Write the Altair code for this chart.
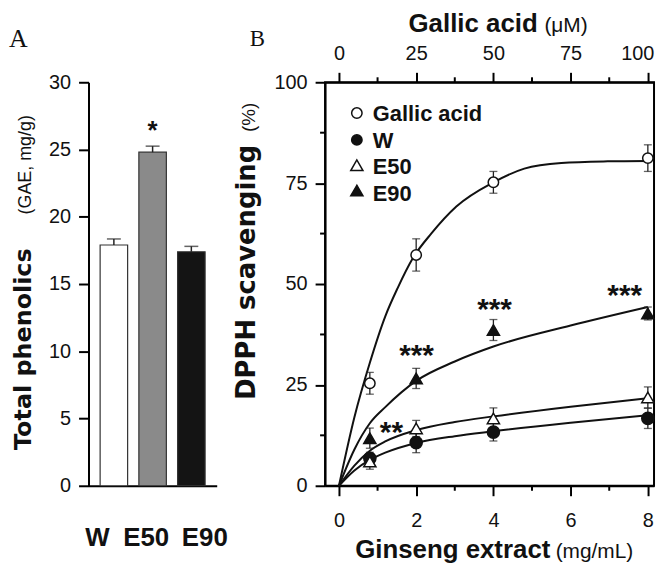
import altair as alt
import pandas as pd

FONT = "Liberation Sans"
TFONT = "DejaVu Sans"
SERIF = "Liberation Serif"
INK = "#111111"

# ---------------- Panel A data ----------------
cats = ["W", "E50", "E90"]
phenolics = [17.9, 24.8, 17.4]
phenolics_err = [0.45, 0.45, 0.4]
bar_fill = ["#ffffff", "#8a8a8a", "#141414"]
a_ticks = [0, 5, 10, 15, 20, 25, 30]

# ---------------- Panel B data ----------------
gallic_uM = [10, 25, 50, 100]
gallic_mean = [25.4, 57.2, 75.2, 81.2]
gallic_err = [2.7, 4.0, 2.7, 3.3]

extract_mg = [0.8, 2, 4, 8]
w_mean = [6.8, 10.7, 13.3, 16.7]
w_err = [1.5, 2.5, 2.2, 2.5]
e50_mean = [6.0, 14.2, 16.7, 21.9]
e50_err = [1.9, 2.0, 2.6, 2.6]
e90_mean = [11.8, 26.6, 38.6, 42.7]
e90_err = [2.5, 2.5, 2.6, 1.6]

# fitted curves
gallic_fit_uM = [0, 5, 10, 15, 19, 24, 30, 38, 50, 60, 72, 87, 100]
gallic_fit = [0, 17, 30.5, 42, 49, 56.5, 62.6, 69.2, 75.2, 78.6, 80, 80.4, 80.5]
fit_mg = [0, 0.4, 0.8, 1.2, 2, 3, 4, 6, 8]
w_fit = [0, 3.8, 6.4, 8.2, 10.6, 12.3, 13.5, 15.6, 17.5]
e50_fit = [0, 5, 8.7, 11, 13.8, 15.8, 17.2, 19.6, 21.7]
e90_fit = [0, 9, 15.5, 19.5, 26, 30.8, 34.5, 39.7, 44.3]

star_x = [1.36, 2.01, 4.03, 7.40]
star_y = [10.9, 30.0, 41.3, 44.8]
star_text = ["**", "***", "***", "***"]

mg_ticks = [0, 2, 4, 6, 8]
mg_minor = [1, 3, 5, 7]
uM_ticks = [0, 25, 50, 75, 100]
uM_minor = [12.5, 37.5, 62.5, 87.5]
pct_ticks = [0, 25, 50, 75, 100]
pct_minor = [12.5, 37.5, 62.5, 87.5]

series = ["W", "E50", "E90"]
series_shape = ["circle", "triangle-up", "triangle-up"]
series_fill = [INK, "#ffffff", INK]


def label(txt, x, y, size, font=FONT, weight="normal", angle=0, align="left"):
    kw = dict(text=txt, font=font, fontSize=size, fontWeight=weight, color=INK,
              align=align, baseline="alphabetic")
    if angle:
        kw["angle"] = angle
    return alt.Chart(pd.DataFrame({"t": [txt]})).mark_text(**kw).encode(
        x=alt.value(x), y=alt.value(y))


# ================= Panel A =================
dfA = pd.DataFrame({"cat": cats, "val": phenolics, "err": phenolics_err})
dfA["top"] = dfA["val"] + dfA["err"]

xA = alt.X("cat:N", sort=cats,
           scale=alt.Scale(paddingInner=0.29, paddingOuter=0.3),
           axis=alt.Axis(title=None, labels=False, ticks=False, domain=True,
                         domainColor="black", domainWidth=2))
axA = alt.Axis(values=a_ticks, title=None, tickSize=10, tickWidth=2,
               labelPadding=8, labelFontSize=20, domainWidth=2)
scA = alt.Scale(domain=[0, 30], nice=False)

barsA = alt.Chart(dfA).mark_bar(stroke="#333333", strokeWidth=1.2).encode(
    x=xA, y=alt.Y("val:Q", scale=scA, axis=axA),
    fill=alt.Fill("cat:N", scale=alt.Scale(domain=cats, range=bar_fill), legend=None))
errA = alt.Chart(dfA).mark_rule(color="#222222", strokeWidth=1.5).encode(
    x=xA, y=alt.Y("val:Q", scale=scA, axis=axA), y2="top:Q")
capA = alt.Chart(dfA).mark_tick(color="#222222", orient="horizontal", size=14,
                                thickness=1.5).encode(
    x=xA, y=alt.Y("top:Q", scale=scA, axis=axA))
starA = alt.Chart(pd.DataFrame({"cat": ["E50"], "v": [25.8]})).mark_text(
    text="*", font=FONT, fontSize=26, fontWeight="bold", color=INK,
    baseline="alphabetic").encode(x=xA, y=alt.Y("v:Q", scale=scA, axis=axA))

panelA = alt.layer(
    barsA, errA, capA, starA,
    label("A", -70.5, -35, 26, font=SERIF, align="center"),
    label("Total phenolics", -58, 370, 24, font=TFONT, weight="bold", angle=270),
    label("(GAE, mg/g)", -58, 133, 18, angle=270),
    label("W", 9, 467, 26, weight="bold", align="center"),
    label("E50", 58, 467, 26, weight="bold", align="center"),
    label("E90", 117, 467, 26, weight="bold", align="center"),
).properties(width=129, height=406)

# ================= Panel B =================
sc_mg = alt.Scale(domain=[-0.36, 8.16], nice=False, zero=False)
sc_uM = alt.Scale(domain=[-4.5, 102.0], nice=False, zero=False)
sc_pct = alt.Scale(domain=[0, 100], nice=False)
axB = alt.Axis(values=pct_ticks, title=None, tickSize=10, tickWidth=2,
               labelPadding=8, labelFontSize=20, domainWidth=2)
ax_mg = alt.Axis(values=mg_ticks, title=None, tickSize=10, tickWidth=2,
                 labelPadding=15, labelFontSize=20, domainWidth=2)
ax_uM = alt.Axis(values=uM_ticks, title=None, orient="top", tickSize=10,
                 tickWidth=2, labelPadding=9, labelFontSize=20, domainWidth=2,
                 labelFlush=10, labelFlushOffset=6)


def yB(field):
    return alt.Y(field, scale=sc_pct, axis=axB)


dfG = pd.DataFrame({"x": gallic_uM, "y": gallic_mean, "e": gallic_err})
dfG["lo"] = dfG["y"] - dfG["e"]
dfG["hi"] = dfG["y"] + dfG["e"]
dfGfit = pd.DataFrame({"x": gallic_fit_uM, "y": gallic_fit})

g_line = alt.Chart(dfGfit).mark_line(interpolate="monotone", color=INK,
                                     strokeWidth=2).encode(
    x=alt.X("x:Q", scale=sc_uM, axis=ax_uM), y=yB("y:Q"))
g_err = alt.Chart(dfG).mark_rule(color="#222222", strokeWidth=1.3).encode(
    x=alt.X("x:Q", scale=sc_uM, axis=ax_uM), y=yB("lo:Q"), y2="hi:Q")
g_cap = alt.Chart(dfG).transform_fold(["lo", "hi"], as_=["k", "v"]).mark_tick(
    color="#222222", orient="horizontal", size=8, thickness=1.3).encode(
    x=alt.X("x:Q", scale=sc_uM, axis=ax_uM), y=yB("v:Q"))
g_pts = alt.Chart(dfG).mark_point(shape="circle", size=110, filled=True,
                                  fill="#ffffff", stroke=INK, strokeWidth=1.5,
                                  opacity=1).encode(
    x=alt.X("x:Q", scale=sc_uM, axis=ax_uM), y=yB("y:Q"))
top_minor = alt.Chart(pd.DataFrame({"x": uM_minor})).mark_rule(
    color="black", strokeWidth=2).encode(
    x=alt.X("x:Q", scale=sc_uM, axis=ax_uM), y=alt.value(-5), y2=alt.value(0))
gallic_group = alt.layer(g_line, g_err, g_cap, g_pts, top_minor)

rows = []
for name, means, errs in [("W", w_mean, w_err), ("E50", e50_mean, e50_err),
                          ("E90", e90_mean, e90_err)]:
    for xv, m, e in zip(extract_mg, means, errs):
        rows.append({"grp": name, "x": xv, "y": m, "lo": m - e, "hi": m + e})
dfE = pd.DataFrame(rows)
fit_rows = []
for name, vals in [("W", w_fit), ("E50", e50_fit), ("E90", e90_fit)]:
    for xv, v in zip(fit_mg, vals):
        fit_rows.append({"grp": name, "x": xv, "y": v})
dfEfit = pd.DataFrame(fit_rows)

e_line = alt.Chart(dfEfit).mark_line(interpolate="monotone", color=INK,
                                     strokeWidth=2).encode(
    x=alt.X("x:Q", scale=sc_mg, axis=ax_mg), y=yB("y:Q"), detail="grp:N")
e_err = alt.Chart(dfE).mark_rule(color="#222222", strokeWidth=1.3).encode(
    x=alt.X("x:Q", scale=sc_mg, axis=ax_mg), y=yB("lo:Q"), y2="hi:Q")
e_cap = alt.Chart(dfE).transform_fold(["lo", "hi"], as_=["k", "v"]).mark_tick(
    color="#222222", orient="horizontal", size=8, thickness=1.3).encode(
    x=alt.X("x:Q", scale=sc_mg, axis=ax_mg), y=yB("v:Q"))
e_pts = alt.Chart(dfE).mark_point(size=150, filled=True, stroke=INK,
                                  strokeWidth=1.5, opacity=1).encode(
    x=alt.X("x:Q", scale=sc_mg, axis=ax_mg), y=yB("y:Q"),
    shape=alt.Shape("grp:N", scale=alt.Scale(domain=series, range=series_shape), legend=None),
    fill=alt.Fill("grp:N", scale=alt.Scale(domain=series, range=series_fill), legend=None))
dfS = pd.DataFrame({"x": star_x, "y": star_y, "t": star_text})
stars = alt.Chart(dfS).mark_text(font=FONT, fontSize=30, fontWeight="bold",
                                 color=INK, baseline="alphabetic").encode(
    x=alt.X("x:Q", scale=sc_mg, axis=ax_mg), y=yB("y:Q"), text="t:N")
bot_minor = alt.Chart(pd.DataFrame({"x": mg_minor})).mark_rule(
    color="black", strokeWidth=2).encode(
    x=alt.X("x:Q", scale=sc_mg, axis=ax_mg), y=alt.value(406), y2=alt.value(411))
mg_group = alt.layer(e_line, e_err, e_cap, e_pts, stars, bot_minor)

y_minor = alt.Chart(pd.DataFrame({"v": pct_minor})).mark_rule(
    color="black", strokeWidth=2).encode(y=yB("v:Q"), x=alt.value(-5), x2=alt.value(0))

legend_layers = []
leg_names = ["Gallic acid", "W", "E50", "E90"]
leg_shapes = ["circle", "circle", "triangle-up", "triangle-up"]
leg_fills = ["#ffffff", INK, "#ffffff", INK]
leg_sizes = [110, 110, 150, 150]
leg_sym_y = [31, 58, 83.5, 109]
leg_txt_y = [39, 66.5, 92.5, 119]
for nm, shp, fl, sz, sy, ty in zip(leg_names, leg_shapes, leg_fills, leg_sizes,
                                   leg_sym_y, leg_txt_y):
    legend_layers.append(
        alt.Chart(pd.DataFrame({"t": [nm]})).mark_point(
            shape=shp, size=sz, filled=True, fill=fl, stroke=INK,
            strokeWidth=1.5, opacity=1).encode(x=alt.value(32), y=alt.value(sy)))
    legend_layers.append(label(nm, 48, ty, 22, weight="bold"))

panelB = alt.layer(
    gallic_group, mg_group, y_minor, *legend_layers,
    label("B", -68, -36.7, 23, font=SERIF, align="center"),
    label("DPPH scavenging", -70, 63, 26, font=TFONT, weight="bold", angle=270, align="right"),
    label("(%)", -70, 50, 19, angle=270),
    label("Gallic acid", 214, -51, 26, weight="bold", align="right"),
    label("(μM)", 220.7, -51, 21),
    label("Ginseng extract", 226.7, 479, 26, weight="bold", align="right"),
    label("(mg/mL)", 232, 479, 21),
).resolve_scale(x="independent").properties(
    width=331, height=406,
    view=alt.ViewBackground(stroke="black", strokeWidth=2))

chart = alt.hconcat(panelA, panelB, spacing=109, bounds="flush").resolve_scale(
    fill="independent", shape="independent"
).properties(
    padding=0
).configure_view(stroke="transparent").configure_axis(
    labelFont=FONT, labelColor=INK, tickColor="black", domainColor="black",
    grid=False)

chart.save("out.html", embed_options={"renderer": "svg", "actions": False})
